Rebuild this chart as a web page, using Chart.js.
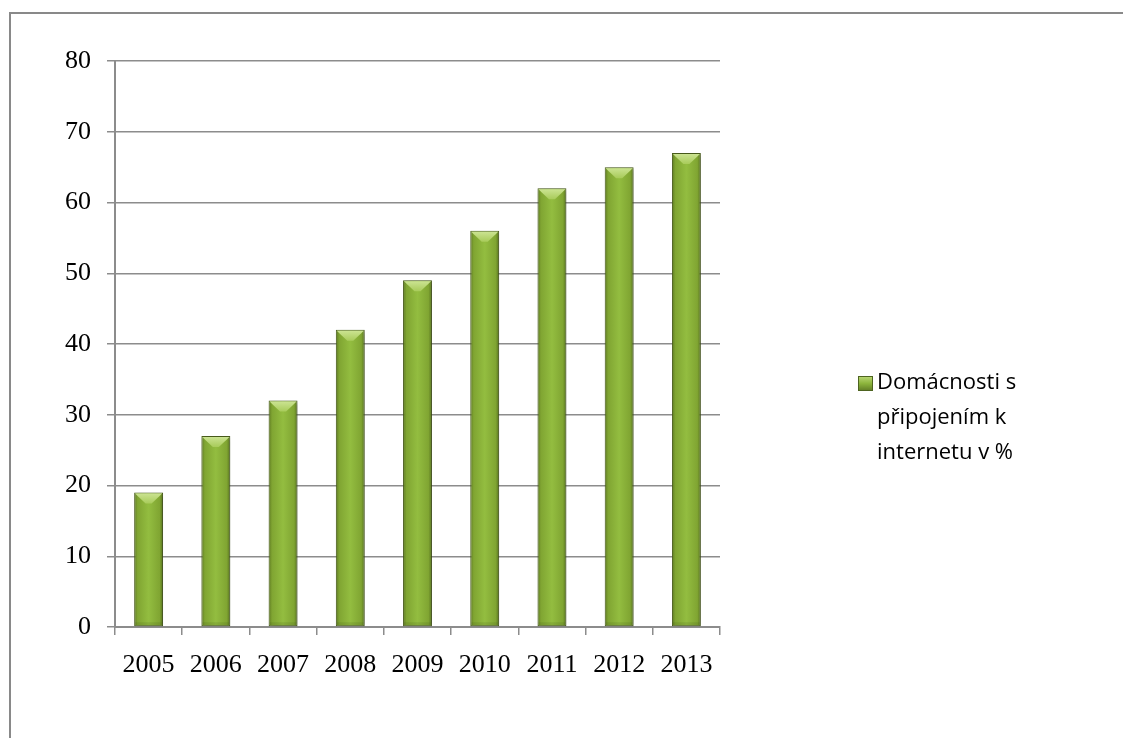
<!DOCTYPE html>
<html>
<head>
<meta charset="utf-8">
<style>
  html, body { margin: 0; padding: 0; background: #fff; }
  #wrap { width: 1123px; height: 738px; position: relative; }
</style>
<script src="https://cdn.jsdelivr.net/npm/chart.js@4/dist/chart.umd.min.js"></script>
</head>
<body>
<div id="wrap"><canvas id="chart" width="1123" height="738"></canvas></div>
<script>
const years = ['2005', '2006', '2007', '2008', '2009', '2010', '2011', '2012', '2013'];
const householdsOnline = [19, 27, 32, 42, 49, 56, 62, 65, 67];
const seriesName = 'Domácnosti s připojením k internetu v %';
const yTicks = [0, 10, 20, 30, 40, 50, 60, 70, 80];

const barPct = 0.43;
const gridGray = '#8c8c8c';

const canvas = document.getElementById('chart');

function barFill(context) {
  const chart = context.chart;
  const xs = chart.scales.x;
  if (!xs || !chart.chartArea) return '#8db43b';
  const cx = xs.getPixelForValue(context.dataIndex);
  const w = (xs.width / years.length) * barPct;
  const g = chart.ctx.createLinearGradient(cx - w / 2, 0, cx + w / 2, 0);
  g.addColorStop(0, '#5e7a22');
  g.addColorStop(0.12, '#80a532');
  g.addColorStop(0.5, '#93bd40');
  g.addColorStop(0.88, '#80a532');
  g.addColorStop(1, '#56711e');
  return g;
}

// frame around the whole chart (cut off at right and bottom like the original)
const framePlugin = {
  id: 'frame',
  beforeDraw(chart) {
    const ctx = chart.ctx;
    ctx.save();
    ctx.fillStyle = '#fff';
    ctx.fillRect(0, 0, chart.width, chart.height);
    ctx.strokeStyle = '#898989';
    ctx.lineWidth = 2;
    ctx.strokeRect(10, 13, chart.width + 20, chart.height + 20);
    ctx.restore();
  }
};

// soft shadow under bars + bevelled top highlight
const bevelPlugin = {
  id: 'bevel',
  beforeDatasetsDraw(chart) {
    const ctx = chart.ctx;
    ctx.save();
    ctx.shadowColor = 'rgba(0,0,0,0.28)';
    ctx.shadowBlur = 5;
    ctx.shadowOffsetX = 2;
    ctx.shadowOffsetY = 1;
  },
  afterDatasetsDraw(chart) {
    const ctx = chart.ctx;
    ctx.restore();
    const meta = chart.getDatasetMeta(0);
    ctx.save();
    meta.data.forEach(bar => {
      const { x, y, width } = bar.getProps(['x', 'y', 'width'], true);
      const l = x - width / 2 + 1, r = x + width / 2 - 1;
      const t = y + 1;
      const d = 10;
      const g = ctx.createLinearGradient(0, t, 0, t + d);
      g.addColorStop(0, '#cbe391');
      g.addColorStop(1, '#a8cb5a');
      ctx.fillStyle = g;
      ctx.beginPath();
      ctx.moveTo(l, t);
      ctx.lineTo(r, t);
      ctx.lineTo(r - 3, t + 3);
      ctx.lineTo(x + 3, t + d);
      ctx.lineTo(x - 3, t + d);
      ctx.lineTo(l + 3, t + 3);
      ctx.closePath();
      ctx.fill();
      // slightly darker foot of the bar
      const b = bar.base;
      ctx.fillStyle = 'rgba(60,80,20,0.15)';
      ctx.fillRect(l, b - 4, r - l, 3);
    });
    ctx.restore();
  }
};

// legend drawn on the right, wrapped to three lines
const legendPlugin = {
  id: 'sideLegend',
  afterDraw(chart) {
    const ctx = chart.ctx;
    const label = chart.data.datasets[0].label;
    ctx.save();
    ctx.font = '22px "Open Sans", "Liberation Sans", sans-serif';
    const words = label.split(' ');
    const lines = [];
    let cur = '';
    words.forEach(w => {
      const test = cur ? cur + ' ' + w : w;
      if (ctx.measureText(test).width > 158 && cur) {
        lines.push(cur);
        cur = w;
      } else {
        cur = test;
      }
    });
    if (cur) lines.push(cur);
    const textX = 877, firstY = 383, lineH = 35;
    ctx.fillStyle = '#000';
    ctx.textBaseline = 'middle';
    ctx.textAlign = 'left';
    lines.forEach((ln, i) => ctx.fillText(ln, textX, firstY + i * lineH));
    // legend swatch
    const bx = 858, by = firstY - 7, bs = 15;
    const g = ctx.createLinearGradient(0, by, 0, by + bs);
    g.addColorStop(0, '#bcd977');
    g.addColorStop(0.5, '#8cb43c');
    g.addColorStop(1, '#5f7b25');
    ctx.fillStyle = g;
    ctx.fillRect(bx, by, bs, bs);
    ctx.strokeStyle = '#4e6420';
    ctx.lineWidth = 1;
    ctx.strokeRect(bx + 0.5, by + 0.5, bs - 1, bs - 1);
    ctx.restore();
  }
};

new Chart(canvas, {
  type: 'bar',
  data: {
    labels: years,
    datasets: [{
      label: seriesName,
      data: householdsOnline,
      backgroundColor: barFill,
      borderColor: '#4b5f1c',
      borderWidth: 1,
      borderSkipped: false,
      categoryPercentage: 1,
      barPercentage: barPct
    }]
  },
  options: {
    responsive: false,
    animation: false,
    devicePixelRatio: 1,
    layout: { padding: { left: 0, top: 61, right: 403, bottom: 0 } },
    plugins: {
      legend: { display: false },
      tooltip: { enabled: false }
    },
    scales: {
      x: {
        afterFit(scale) { scale.height = 111; },
        grid: {
          display: true,
          offset: true,
          drawOnChartArea: false,
          drawTicks: true,
          tickLength: 8,
          color: gridGray,
          lineWidth: 1.5
        },
        border: { display: true, color: gridGray, width: 2 },
        ticks: {
          color: '#000',
          padding: 15,
          maxRotation: 0,
          font: { family: '"Liberation Serif", "Times New Roman", serif', size: 26 }
        }
      },
      y: {
        min: 0,
        max: 80,
        afterFit(scale) { scale.width = 115; },
        afterBuildTicks(scale) { scale.ticks = yTicks.map(v => ({ value: v })); },
        grid: {
          color: gridGray,
          lineWidth: 1.5,
          drawTicks: true,
          tickLength: 8
        },
        border: { display: true, color: gridGray, width: 2 },
        ticks: {
          color: '#000',
          padding: 16,
          font: { family: '"Liberation Serif", "Times New Roman", serif', size: 26 }
        }
      }
    }
  },
  plugins: [framePlugin, bevelPlugin, legendPlugin]
});
</script>
</body>
</html>
